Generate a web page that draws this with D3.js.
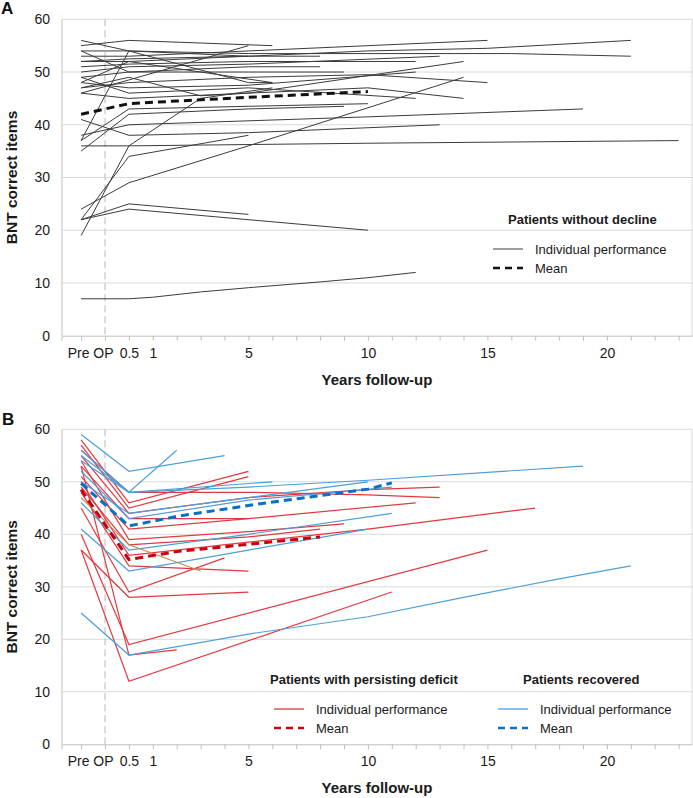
<!DOCTYPE html>
<html>
<head>
<meta charset="utf-8">
<script src="https://cdn.jsdelivr.net/npm/d3@7"></script>
<style>
body { margin: 0; background: #fff; }
svg { display: block; font-family: "Liberation Sans", Arial, sans-serif; }
</style>
</head>
<body>
<script>
"use strict";

// Data

const PRE = "Pre OP";
const xTickLabels = [PRE, 0.5, 1, 5, 10, 15, 20];
const yTicks = [0, 10, 20, 30, 40, 50, 60];

// panel A: patients without decline, [time, BNT score]
const withoutDecline = [
    [[PRE, 55], [0.5, 56], [6, 55]],
    [[PRE, 56], [0.5, 54], [5, 48], [6, 48]],
    [[PRE, 53], [0.5, 53], [5, 54], [10, 55], [15, 56]],
    [[PRE, 54], [0.5, 54], [5, 53.5], [10, 53.5], [16, 53.5], [21, 53]],
    [[PRE, 52], [0.5, 52.5], [5, 53], [10, 54], [15, 54.5], [21, 56]],
    [[PRE, 52], [0.5, 52], [5, 53], [8, 53]],
    [[PRE, 51], [0.5, 51.5], [5, 52], [12, 52]],
    [[PRE, 37], [0.5, 54], [5, 53]],
    [[PRE, 49], [0.5, 50], [5, 51], [8, 51]],
    [[PRE, 50], [0.5, 51], [5, 51.5], [13, 53]],
    [[PRE, 54], [0.5, 50], [5, 50], [9, 50]],
    [[PRE, 47], [0.5, 48], [5, 49], [10, 49.5], [15, 48]],
    [[PRE, 46], [0.5, 48.5], [5, 55]],
    [[PRE, 48], [0.5, 47], [5, 47.5], [12, 50]],
    [[PRE, 47], [0.5, 49], [3, 45.5], [5, 46], [14, 52]],
    [[PRE, 46], [0.5, 45], [5, 46], [10, 47], [14, 45]],
    [[PRE, 49], [0.5, 46], [5, 47], [12, 45]],
    [[PRE, 48], [0.5, 52], [6, 48]],
    [[PRE, 37], [0.5, 43], [5, 43.5], [10, 44]],
    [[PRE, 35], [0.5, 42], [5, 43], [9, 43.5]],
    [[PRE, 41], [0.5, 38], [5, 38.5], [13, 40]],
    [[PRE, 38], [0.5, 40], [10, 41.5], [19, 43]],
    [[PRE, 36], [0.5, 36], [10, 36.5], [23, 37]],
    [[PRE, 24], [0.5, 29], [5, 36], [14, 49]],
    [[PRE, 22], [0.5, 34], [5, 38]],
    [[PRE, 19], [0.5, 36], [3, 45], [6, 47]],
    [[PRE, 22], [0.5, 25], [5, 23]],
    [[PRE, 22], [0.5, 24], [10, 20]],
    [[PRE, 7], [0.5, 7], [1, 7.3], [3, 8.3], [5, 9.1], [8, 10.2], [10, 11], [12, 12]]
];
const meanWithoutDecline = [[PRE, 42], [0.5, 44], [2, 44.5], [5, 45.2], [10, 46.3]];

// panel B
const persistingDeficit = [
    [[PRE, 58], [0.5, 46], [5, 52]],
    [[PRE, 57], [0.5, 45], [5, 51]],
    [[PRE, 56], [0.5, 48], [5, 48], [10, 47.5], [13, 47]],
    [[PRE, 55], [0.5, 44], [5, 47], [10, 48.5], [13, 49]],
    [[PRE, 53], [0.5, 43], [5, 43]],
    [[PRE, 51], [0.5, 41], [5, 43], [12, 46]],
    [[PRE, 50], [0.5, 36], [5, 38.5], [10, 41], [17, 45]],
    [[PRE, 54], [0.5, 39], [5, 40.5], [9, 42]],
    [[PRE, 49], [0.5, 38], [5, 39.5], [8, 41]],
    [[PRE, 48], [0.5, 34], [5, 33]],
    [[PRE, 45], [0.5, 29], [4, 35.5]],
    [[PRE, 37], [0.5, 28], [5, 29]],
    [[PRE, 40], [0.5, 19], [15, 37]],
    [[PRE, 53], [0.5, 17], [2, 18]],
    [[PRE, 37], [0.5, 12], [11, 29]]
];
const meanDeficit = [[PRE, 48.5], [0.5, 35.2], [2, 36.7], [8, 39.5]];

const recovered = [
    [[PRE, 59], [0.5, 52], [4, 55]],
    [[PRE, 56], [0.5, 48], [2, 56]],
    [[PRE, 55], [0.5, 48], [6, 50]],
    [[PRE, 54], [0.5, 48], [5, 49], [10, 50.3], [15, 51.8], [19, 53]],
    [[PRE, 52], [0.5, 43], [5, 46.5], [11, 49]],
    [[PRE, 50], [0.5, 44], [5, 47], [10, 50]],
    [[PRE, 46], [0.5, 37], [5, 40], [11, 44]],
    [[PRE, 41], [0.5, 33], [5, 37], [10, 41]],
    [[PRE, 25], [0.5, 17], [5, 21], [10, 24.3], [14, 28], [18, 31.5], [21, 34]]
];
const meanRecovered = [[PRE, 49.7], [0.5, 41.6], [2, 43.4], [5, 45.5], [10, 48.6], [11, 49.8]];

const otherPatient = [[[PRE, 47], [0.5, 38], [3, 33]]];

// Layout

const svgWidth = 693, svgHeight = 798;
const plotLeft = 62, plotRight = 692;

// Pre OP sits one slot before the operation, 0.5 years one slot after it
function slot(t) {
    if (t === PRE) return -1;
    if (t === 0.5) return 1;
    return t + 1;
}

const xScale = d3.scaleLinear()
    .domain([-1.8, 24.56])
    .range([plotLeft, plotRight]);

let svg = d3.select("body").append("svg")
    .attr("width", svgWidth)
    .attr("height", svgHeight);

function drawPanel(cfg) {
    let yScale = d3.scaleLinear()
        .domain([0, 60])
        .range([cfg.bottom, cfg.top]);

    let g = svg.append("g");

    // grid
    g.selectAll(".grid")
        .data(yTicks.filter(d => d > 0))
        .enter().append("line")
        .attr("x1", plotLeft).attr("x2", plotRight)
        .attr("y1", d => yScale(d)).attr("y2", d => yScale(d))
        .style("stroke", "#d9d9d9");

    g.append("line")
        .attr("x1", plotRight).attr("x2", plotRight)
        .attr("y1", cfg.top).attr("y2", cfg.bottom)
        .style("stroke", "#d9d9d9");

    // operation marker
    g.append("line")
        .attr("x1", xScale(0)).attr("x2", xScale(0))
        .attr("y1", cfg.top).attr("y2", cfg.bottom)
        .style("stroke", "#cfcfcf")
        .style("stroke-width", 1.5)
        .style("stroke-dasharray", "7,4");

    // axes
    let labelAt = {};
    xTickLabels.forEach(t => labelAt[slot(t)] = t);

    let xAxis = d3.axisBottom(xScale)
        .tickValues(d3.range(-1, 25))
        .tickSize(5)
        .tickSizeOuter(0)
        .tickPadding(7)
        .tickFormat(u => labelAt[u] !== undefined ? labelAt[u] : "");

    let ax = g.append("g")
        .attr("transform", `translate(0, ${cfg.bottom})`)
        .call(xAxis);
    ax.selectAll("path, line").style("stroke", "#bfbfbf");
    ax.selectAll("text")
        .style("font-size", "14px")
        .style("fill", "#1a1a1a")
        .attr("dx", u => u === -1 ? 9 : 0);

    g.append("line")
        .attr("x1", plotLeft).attr("x2", plotLeft)
        .attr("y1", cfg.top).attr("y2", cfg.bottom + 5)
        .style("stroke", "#bfbfbf");

    let yAxis = d3.axisLeft(yScale)
        .tickValues(yTicks)
        .tickSize(0)
        .tickPadding(12);

    let ay = g.append("g")
        .attr("transform", `translate(${plotLeft}, 0)`)
        .call(yAxis);
    ay.select(".domain").remove();
    ay.selectAll("text")
        .style("font-size", "14px")
        .style("fill", "#1a1a1a");

    // titles
    g.append("text")
        .attr("transform", `translate(17, ${(cfg.top + cfg.bottom) / 2}) rotate(-90)`)
        .style("text-anchor", "middle")
        .style("font-size", "15.5px")
        .style("font-weight", "bold")
        .style("fill", "#1a1a1a")
        .text("BNT correct items");

    g.append("text")
        .attr("x", (plotLeft + plotRight) / 2)
        .attr("y", cfg.bottom + 49)
        .style("text-anchor", "middle")
        .style("font-size", "15px")
        .style("font-weight", "bold")
        .style("fill", "#1a1a1a")
        .text("Years follow-up");

    g.append("text")
        .attr("x", cfg.labelX)
        .attr("y", cfg.labelY)
        .style("font-size", "17px")
        .style("font-weight", "bold")
        .style("fill", "#111")
        .text(cfg.label);

    // lines
    let line = d3.line()
        .x(d => xScale(slot(d[0])))
        .y(d => yScale(d[1]));

    cfg.series.forEach(s => {
        g.append("g").selectAll("path")
            .data(s.lines)
            .enter().append("path")
            .attr("d", line)
            .style("fill", "none")
            .style("stroke", s.color)
            .style("stroke-width", s.width)
            .style("stroke-dasharray", s.dash || null);
    });

    // legend
    cfg.legend.forEach(l => {
        g.append("text")
            .attr("x", l.x)
            .attr("y", l.y)
            .style("font-size", "13px")
            .style("font-weight", "bold")
            .style("fill", "#1a1a1a")
            .text(l.title);
        l.items.forEach((it, i) => {
            let yy = l.y + 25 + i * 19;
            g.append("line")
                .attr("x1", l.lx).attr("x2", l.lx + 30)
                .attr("y1", yy).attr("y2", yy)
                .style("stroke", it.color)
                .style("stroke-width", it.width)
                .style("stroke-dasharray", it.dash || null);
            g.append("text")
                .attr("x", l.lx + 42)
                .attr("y", yy + 5)
                .style("font-size", "13px")
                .style("fill", "#1a1a1a")
                .text(it.name);
        });
    });
}

const red = "#e2393f", blue = "#4d9fdb";

drawPanel({
    top: 19.3, bottom: 335.7, label: "A", labelX: 1, labelY: 14,
    series: [
        {lines: withoutDecline, color: "#3c3c3c", width: 1},
        {lines: [meanWithoutDecline], color: "#111", width: 3, dash: "8,5"}
    ],
    legend: [
        {title: "Patients without decline", x: 508, y: 224, lx: 493, items: [
            {name: "Individual performance", color: "#3c3c3c", width: 1},
            {name: "Mean", color: "#111", width: 2.5, dash: "7,5"}
        ]}
    ]
});

drawPanel({
    top: 429.3, bottom: 744.3, label: "B", labelX: 2, labelY: 425,
    series: [
        {lines: persistingDeficit, color: red, width: 1.2},
        {lines: recovered, color: blue, width: 1.2},
        {lines: otherPatient, color: "#c78952", width: 1.1},
        {lines: [meanRecovered], color: "#0b6fc4", width: 3, dash: "8,5"},
        {lines: [meanDeficit], color: "#c8000d", width: 3, dash: "8,5"}
    ],
    legend: [
        {title: "Patients with persisting deficit", x: 270, y: 684, lx: 274, items: [
            {name: "Individual performance", color: red, width: 1.3},
            {name: "Mean", color: "#c8000d", width: 2.5, dash: "7,5"}
        ]},
        {title: "Patients recovered", x: 523, y: 684, lx: 498, items: [
            {name: "Individual performance", color: blue, width: 1.3},
            {name: "Mean", color: "#0b6fc4", width: 2.5, dash: "7,5"}
        ]}
    ]
});
</script>
</body>
</html>
